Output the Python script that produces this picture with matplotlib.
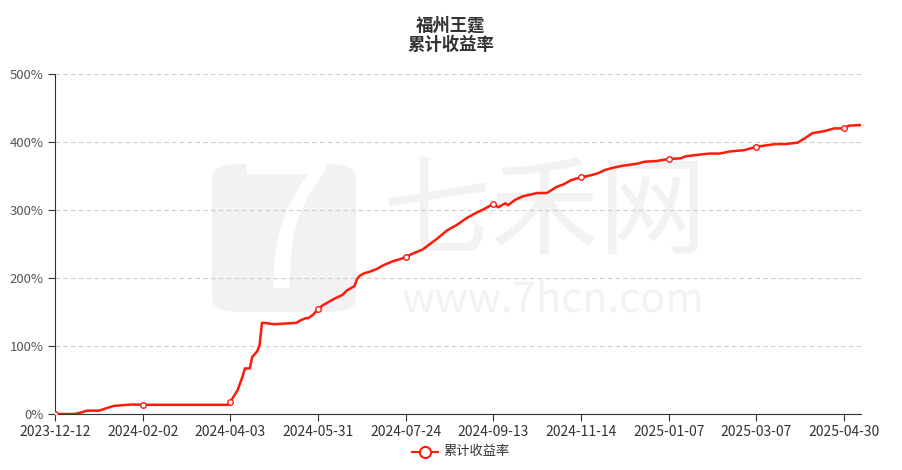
import matplotlib
matplotlib.use('Agg')
import matplotlib.pyplot as plt
from matplotlib.patches import FancyBboxPatch

plt.rcParams['font.family'] = ['Noto Sans CJK SC', 'DejaVu Sans']
plt.rcParams['axes.unicode_minus'] = False

# 交易日序号 与 累计收益率(%)
x_idx = [0, 8, 11, 13, 18, 21, 24, 27, 32, 36, 71, 72, 75, 77, 78, 80, 81, 83, 84,
         85, 86, 90, 99, 101, 103, 104, 106, 108, 110, 112, 115, 118, 120, 123, 124,
         125, 127, 129, 132, 135, 139, 142, 144, 147, 151, 154, 157, 161, 165, 169,
         172, 176, 180, 182, 185, 186, 189, 192, 198, 202, 206, 209, 212, 216, 220,
         223, 226, 229, 233, 239, 242, 247, 252, 257, 259, 266, 269, 273, 277, 283,
         288, 292, 296, 300, 305, 309, 311, 316, 320, 324, 326, 331]
y_vals = [0, 0, 2.5, 4.9, 4.9, 8.4, 11.8, 12.8, 14.0, 13.5, 13.5, 18, 35, 55, 67, 67,
          84, 92, 101, 134, 134, 132, 134, 138, 141, 141, 146, 154, 160, 164, 170,
          175, 182, 188, 198, 203, 207, 209, 213, 219, 225, 228, 231, 236, 242, 250,
          258, 270, 278, 288, 294, 301, 309, 304, 310, 307, 315, 320, 325, 325, 334,
          338, 344, 348, 351, 354, 359, 362, 365, 368, 371, 372, 375, 376, 379, 382,
          383, 383, 386, 388, 393, 395, 397, 397, 399, 408, 413, 416, 420, 420, 424,
          425]
tick_idx = [0, 36, 72, 108, 144, 180, 216, 252, 288, 324]
tick_labels = ['2023-12-12', '2024-02-02', '2024-04-03', '2024-05-31', '2024-07-24',
               '2024-09-13', '2024-11-14', '2025-01-07', '2025-03-07', '2025-04-30']
y_ticks = [0, 100, 200, 300, 400, 500]

fig = plt.figure(figsize=(9.02, 4.70), dpi=100)
ax = fig.add_axes([55 / 902, 1 - 414 / 470, 806 / 902, 340 / 470])
ax.set_zorder(5)
ax.patch.set_alpha(0)

# 水印
wm = '#f2f2f2'
fig.patches.append(FancyBboxPatch((212 / 902, 1 - 312 / 470), 144 / 902, 148 / 470,
                                  boxstyle='round,pad=0,rounding_size=0.03',
                                  transform=fig.transFigure, fc=wm, ec='none', zorder=0))
fig.text(286 / 902, 1 - 238 / 470, '7', fontsize=125, color='white', ha='center',
         va='center', zorder=1)
fig.text(545 / 902, 1 - 215 / 470, '七禾网', fontsize=78, color=wm, ha='center',
         va='center', zorder=0)
fig.text(553 / 902, 1 - 300 / 470, 'www.7hcn.com', fontsize=30, color=wm, ha='center',
         va='center', zorder=0)

ax.plot(x_idx, y_vals, color='#ff1a0a', lw=1.8, zorder=3)
mk_y = [y_vals[x_idx.index(i)] for i in tick_idx]
ax.plot(tick_idx, mk_y, 'o', ms=4, mfc='white', mec='#ff1a0a', mew=1, zorder=4)

ax.set_xlim(0, 331)
ax.set_ylim(0, 500)
ax.set_xticks(tick_idx)
ax.set_xticklabels(tick_labels, fontsize=10, color='#333333')
ax.set_yticks(y_ticks)
ax.set_yticklabels([f'{v}%' for v in y_ticks], fontsize=9.5, color='#555555')
ax.grid(axis='y', color='#cccccc', ls=(0, (4, 3)), lw=0.8)
for s in ['top', 'right']:
    ax.spines[s].set_visible(False)
ax.spines['left'].set_color('#333333')
ax.spines['bottom'].set_color('#333333')
ax.tick_params(axis='both', length=5, color='#333333', pad=3)

fig.text(0.5, 1 - 26 / 470, '福州王霆', fontsize=12.5, fontweight='bold', ha='center',
         va='center', color='#333333')
fig.text(0.5, 1 - 45 / 470, '累计收益率', fontsize=12.5, fontweight='bold', ha='center',
         va='center', color='#333333')

# 图例
ly = 1 - 452 / 470
fig.add_artist(plt.Line2D([412 / 902, 438 / 902], [ly, ly], color='#ff1a0a', lw=1.5,
                          transform=fig.transFigure))
fig.add_artist(plt.Line2D([425 / 902], [ly], marker='o', ms=8, mfc='white',
                          mec='#ff1a0a', mew=1.5, transform=fig.transFigure))
fig.text(443 / 902, ly, '累计收益率', fontsize=9.5, va='center', color='#333333')

fig.savefig('out.png', dpi=100)
